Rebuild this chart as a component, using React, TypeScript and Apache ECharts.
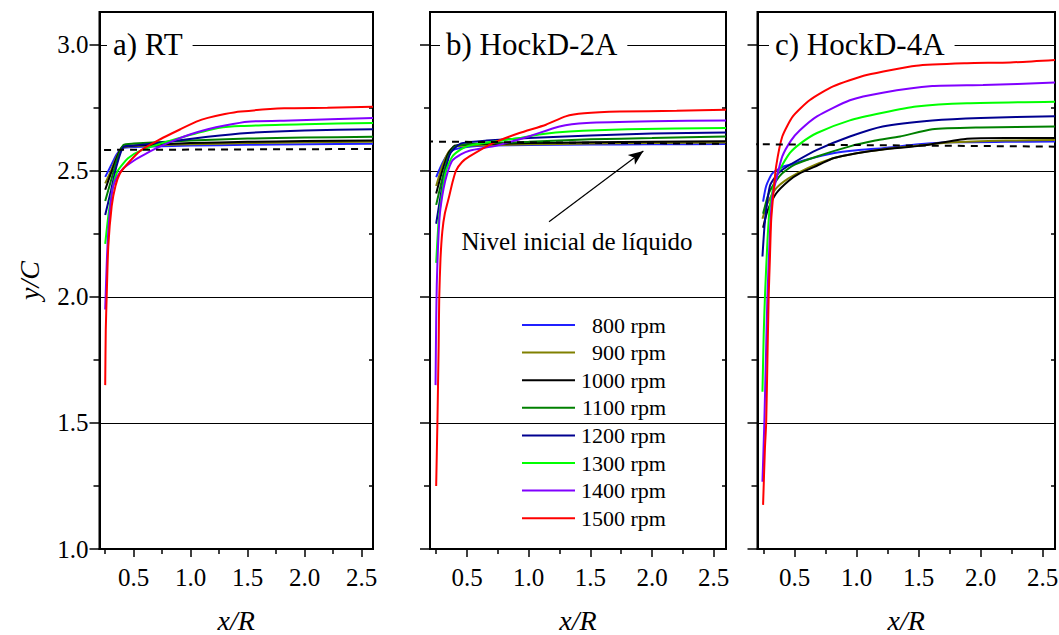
import React, { useEffect, useRef } from "react";
import * as echarts from "echarts";

const FONT = "Liberation Serif";

const rpmNames = ["800 rpm", "900 rpm", "1000 rpm", "1100 rpm", "1200 rpm", "1300 rpm", "1400 rpm", "1500 rpm"];
const rpmColors = ["#2020ff", "#808000", "#000000", "#008000", "#000090", "#00ff00", "#8000ff", "#ff0000"];
const panelTitles = ["a) RT", "b) HockD-2A", "c) HockD-4A"];
const xMajorTicks = [0.5, 1.0, 1.5, 2.0, 2.5];
const xMinorTicks = [0.25, 0.75, 1.25, 1.75, 2.25];
const yMajorTicks = [1.0, 1.5, 2.0, 2.5, 3.0];
const yMinorTicks = [1.25, 1.75, 2.25, 2.75];
const annotationText = "Nivel inicial de líquido";

// Panel a) RT
const a800 = [[0.25, 2.476], [0.3, 2.52], [0.35, 2.565], [0.4, 2.59], [0.5, 2.595], [1.0, 2.6], [1.5, 2.603], [2.0, 2.605], [2.6, 2.607]];
const a900 = [[0.25, 2.45], [0.3, 2.5], [0.35, 2.555], [0.4, 2.592], [0.5, 2.598], [1.0, 2.605], [1.5, 2.61], [2.0, 2.613], [2.6, 2.615]];
const a1000 = [[0.25, 2.425], [0.3, 2.49], [0.35, 2.55], [0.4, 2.595], [0.5, 2.6], [1.0, 2.61], [1.5, 2.615], [2.0, 2.618], [2.6, 2.62]];
const a1100 = [[0.25, 2.38], [0.3, 2.46], [0.35, 2.54], [0.41, 2.603], [0.5, 2.608], [1.0, 2.62], [1.5, 2.628], [2.0, 2.632], [2.6, 2.635]];
const a1200 = [[0.25, 2.325], [0.3, 2.42], [0.35, 2.52], [0.41, 2.595], [0.5, 2.6], [0.8, 2.615], [1.15, 2.635], [1.5, 2.65], [2.0, 2.66], [2.6, 2.665]];
const a1300 = [[0.25, 2.21], [0.28, 2.33], [0.32, 2.44], [0.36, 2.5], [0.45, 2.55], [0.56, 2.58], [0.75, 2.61], [0.94, 2.635], [1.1, 2.655], [1.24, 2.67], [1.44, 2.678], [2.0, 2.685], [2.6, 2.69]];
const a1400 = [[0.25, 1.95], [0.265, 2.15], [0.28, 2.28], [0.3, 2.38], [0.32, 2.44], [0.36, 2.48], [0.41, 2.51], [0.5, 2.54], [0.56, 2.556], [0.7, 2.59], [0.85, 2.62], [1.0, 2.645], [1.15, 2.665], [1.3, 2.68], [1.5, 2.695], [1.88, 2.7], [2.6, 2.71]];
const a1500 = [[0.25, 1.65], [0.255, 1.87], [0.263, 2.0], [0.277, 2.2], [0.307, 2.36], [0.34, 2.44], [0.38, 2.49], [0.45, 2.53], [0.56, 2.58], [0.71, 2.62], [0.91, 2.665], [1.05, 2.695], [1.15, 2.71], [1.3, 2.725], [1.44, 2.735], [1.82, 2.748], [2.2, 2.75], [2.6, 2.754]];

// Panel b) HockD-2A
const b800 = [[0.25, 2.475], [0.3, 2.53], [0.35, 2.57], [0.4, 2.585], [0.5, 2.595], [0.7, 2.6], [1.0, 2.602], [1.5, 2.604], [2.0, 2.605], [2.6, 2.606]];
const b900 = [[0.25, 2.44], [0.3, 2.52], [0.35, 2.575], [0.4, 2.595], [0.5, 2.6], [1.0, 2.605], [1.5, 2.608], [2.0, 2.61], [2.6, 2.612]];
const b1000 = [[0.25, 2.41], [0.3, 2.5], [0.35, 2.57], [0.4, 2.6], [0.5, 2.605], [1.0, 2.61], [1.5, 2.613], [2.0, 2.615], [2.6, 2.617]];
const b1100 = [[0.25, 2.365], [0.3, 2.47], [0.35, 2.56], [0.4, 2.595], [0.5, 2.605], [1.0, 2.615], [1.5, 2.625], [2.0, 2.63], [2.6, 2.636]];
const b1200 = [[0.25, 2.29], [0.3, 2.44], [0.356, 2.56], [0.4, 2.59], [0.46, 2.61], [0.66, 2.62], [1.0, 2.63], [1.5, 2.64], [2.0, 2.648], [2.6, 2.652]];
const b1300 = [[0.25, 2.135], [0.27, 2.3], [0.3, 2.42], [0.33, 2.5], [0.38, 2.556], [0.45, 2.585], [0.52, 2.6], [0.7, 2.615], [0.925, 2.63], [1.1, 2.645], [1.33, 2.656], [1.8, 2.665], [2.6, 2.67]];
const b1400 = [[0.245, 1.65], [0.25, 1.9], [0.255, 2.05], [0.265, 2.2], [0.28, 2.33], [0.31, 2.43], [0.34, 2.49], [0.38, 2.54], [0.45, 2.565], [0.52, 2.58], [0.74, 2.6], [1.0, 2.636], [1.25, 2.676], [1.47, 2.69], [2.0, 2.697], [2.6, 2.7]];
const b1500 = [[0.25, 1.25], [0.26, 1.5], [0.27, 1.8], [0.275, 2.0], [0.285, 2.15], [0.3, 2.26], [0.32, 2.33], [0.356, 2.4], [0.38, 2.45], [0.41, 2.5], [0.46, 2.535], [0.52, 2.557], [0.71, 2.61], [0.925, 2.65], [1.14, 2.683], [1.3, 2.716], [1.45, 2.728], [1.74, 2.735], [2.2, 2.738], [2.6, 2.742]];

// Panel c) HockD-4A
const c800 = [[0.245, 2.378], [0.27, 2.44], [0.32, 2.49], [0.4, 2.515], [0.46, 2.524], [0.6, 2.545], [0.81, 2.57], [1.0, 2.582], [1.21, 2.59], [1.5, 2.605], [1.75, 2.613], [2.2, 2.615], [2.6, 2.616]];
const c900 = [[0.24, 2.31], [0.28, 2.37], [0.35, 2.43], [0.45, 2.47], [0.6, 2.51], [0.81, 2.55], [1.0, 2.57], [1.21, 2.585], [1.5, 2.6], [1.75, 2.612], [2.2, 2.62], [2.6, 2.622]];
const c1000 = [[0.245, 2.274], [0.28, 2.34], [0.35, 2.41], [0.45, 2.46], [0.54, 2.49], [0.7, 2.525], [0.81, 2.55], [1.0, 2.57], [1.21, 2.585], [1.53, 2.6], [1.89, 2.627], [2.2, 2.63], [2.6, 2.63]];
const c1100 = [[0.245, 2.33], [0.29, 2.41], [0.35, 2.46], [0.4, 2.49], [0.5, 2.525], [0.68, 2.557], [0.945, 2.597], [1.15, 2.62], [1.35, 2.636], [1.61, 2.665], [2.0, 2.672], [2.6, 2.676]];
const c1200 = [[0.24, 2.16], [0.26, 2.3], [0.3, 2.44], [0.35, 2.48], [0.4, 2.504], [0.5, 2.535], [0.68, 2.583], [0.945, 2.636], [1.21, 2.676], [1.61, 2.7], [2.0, 2.71], [2.6, 2.716]];
const c1300 = [[0.24, 1.624], [0.25, 1.85], [0.26, 2.0], [0.28, 2.22], [0.3, 2.36], [0.35, 2.477], [0.46, 2.57], [0.55, 2.61], [0.68, 2.65], [0.945, 2.7], [1.21, 2.73], [1.48, 2.755], [1.89, 2.768], [2.6, 2.774]];
const c1400 = [[0.24, 1.267], [0.255, 1.5], [0.27, 1.8], [0.28, 2.0], [0.3, 2.25], [0.32, 2.4], [0.35, 2.464], [0.4, 2.557], [0.47, 2.62], [0.54, 2.66], [0.68, 2.716], [0.945, 2.78], [1.21, 2.81], [1.61, 2.836], [2.02, 2.84], [2.6, 2.85]];
const c1500 = [[0.245, 1.175], [0.26, 1.4], [0.27, 1.5], [0.28, 1.75], [0.29, 2.0], [0.3, 2.15], [0.31, 2.3], [0.33, 2.42], [0.35, 2.517], [0.4, 2.636], [0.485, 2.716], [0.62, 2.78], [0.81, 2.835], [1.08, 2.88], [1.48, 2.917], [1.89, 2.927], [2.24, 2.93], [2.6, 2.94]];

// Initial liquid level (dashed), extending past the frames as in the figure
const levelA = [[0.24, 2.583], [2.79, 2.587]];
const levelB = [[-0.043, 2.617], [2.6, 2.607]];
const levelC = [[0.033, 2.606], [2.6, 2.596]];
const arrowFrom = [1.165, 2.298];
const arrowTo = [1.93, 2.579];

const panelData = [
  [a800, a900, a1000, a1100, a1200, a1300, a1400, a1500],
  [b800, b900, b1000, b1100, b1200, b1300, b1400, b1500],
  [c800, c900, c1000, c1100, c1200, c1300, c1400, c1500],
];
const levels = [levelA, levelB, levelC];

export default function App() {
  const ref = useRef<HTMLDivElement>(null);
  useEffect(() => {
    if (!ref.current) return;
    const chart = echarts.init(ref.current, null, { renderer: "svg" });
    const grids = [
      { left: 99.5, top: 12, width: 273.5, height: 537 },
      { left: 430, top: 12, width: 296, height: 537 },
      { left: 757.5, top: 12, width: 297.5, height: 537 },
    ];
    const titleLefts = [107, 440, 769];
    const black = "#000";
    const tickFont = `25px "${FONT}"`;
    const xAxes: any[] = [];
    const yAxes: any[] = [];
    const series: any[] = [];
    grids.forEach((g, i) => {
      xAxes.push({
        gridIndex: i, type: "value", position: "bottom", min: 0.2, max: 2.6,
        axisLine: { show: true, lineStyle: { color: black, width: 2 } },
        axisTick: { show: true, customValues: xMajorTicks, length: 8, inside: false, lineStyle: { color: black, width: 1.5 } },
        axisLabel: { show: false },
        splitLine: { show: false },
        name: "x/R", nameLocation: "middle", nameGap: 57,
        nameTextStyle: { fontSize: 28, fontStyle: "italic", fontFamily: FONT, color: black },
      });
      xAxes.push({
        gridIndex: i, type: "value", position: "bottom", min: 0.2, max: 2.6,
        axisLine: { show: false },
        axisTick: { show: true, customValues: xMinorTicks, length: 5, inside: false, lineStyle: { color: black, width: 1.5 } },
        axisLabel: { show: false }, splitLine: { show: false },
      });
      yAxes.push({
        gridIndex: i, type: "value", position: "left", min: 1.0, max: 3.13, interval: 0.5,
        axisLine: { show: true, lineStyle: { color: black, width: 2 } },
        axisTick: { show: true, customValues: yMajorTicks, length: 10, inside: false, lineStyle: { color: black, width: 1.5 } },
        axisLabel: { show: false },
        splitLine: { show: true, lineStyle: { color: black, width: 1.2 } },
        name: i === 0 ? "y/C" : "", nameLocation: "middle", nameRotate: 90, nameGap: 56,
        nameTextStyle: { fontSize: 28, fontStyle: "italic", fontFamily: FONT, color: black },
      });
      yAxes.push({
        gridIndex: i, type: "value", position: "left", min: 1.0, max: 3.13,
        axisLine: { show: false },
        axisTick: { show: true, customValues: yMinorTicks, length: 6, inside: false, lineStyle: { color: black, width: 1.5 } },
        axisLabel: { show: false }, splitLine: { show: false },
      });
      yAxes.push({
        gridIndex: i, type: "value", position: "right", min: 1.0, max: 3.13,
        axisLine: { show: false },
        axisTick: { show: true, customValues: yMinorTicks, length: 4, inside: true, lineStyle: { color: black, width: 1.5 } },
        axisLabel: { show: false }, splitLine: { show: false },
      });
      panelData[i].forEach((d, j) => {
        series.push({
          type: "line", name: rpmNames[j], xAxisIndex: 2 * i, yAxisIndex: 3 * i,
          data: d, showSymbol: false, symbol: "none", smooth: 0.2,
          lineStyle: { color: rpmColors[j], width: 2 }, itemStyle: { color: rpmColors[j] },
          z: 3 + j,
        });
      });
      const lvl: any = {
        type: "line", name: "nivel" + i, xAxisIndex: 2 * i, yAxisIndex: 3 * i,
        data: levels[i], showSymbol: false, symbol: "none", clip: false,
        lineStyle: { color: black, width: 2, type: [7, 6] }, z: 12,
      };
      if (i === 1) {
        lvl.markLine = {
          silent: true, symbol: ["none", "arrow"], symbolSize: [9, 15],
          label: { show: false },
          lineStyle: { color: black, width: 1.2, type: "solid" },
          data: [[{ coord: arrowFrom }, { coord: arrowTo }]],
        };
      }
      series.push(lvl);
    });

    const annotation = {
      type: "text", id: "annot", x: 577, y: 241, z: 20,
      style: { text: annotationText, font: `25px "${FONT}"`, fill: black, align: "center", verticalAlign: "middle" },
    };

    const option: any = {
      animation: false,
      backgroundColor: "#fff",
      textStyle: { fontFamily: FONT, color: black },
      grid: grids.map((g) => ({ ...g, show: true, borderColor: black, borderWidth: 2, backgroundColor: "transparent", containLabel: false, outerBoundsMode: "none" })),
      title: panelTitles.map((t, i) => ({
        text: t, left: titleLefts[i], top: 27,
        backgroundColor: "#fff", padding: [1, 10, 1, 6],
        textStyle: { fontSize: 31, fontWeight: "normal", fontFamily: FONT, color: black, lineHeight: 32 },
      })),
      legend: {
        show: true, orient: "vertical", left: 517, top: 309,
        itemWidth: 53, itemHeight: 2, itemGap: 5.6, icon: "rect",
        selectedMode: false, data: rpmNames,
        formatter: (n: string) => `{r|${n}}`,
        textStyle: { color: black, fontFamily: FONT, fontSize: 22, rich: { r: { width: 86, align: "right", fontSize: 22, lineHeight: 22, fontFamily: FONT, color: black } } },
      },
      graphic: [annotation],
      xAxis: xAxes,
      yAxis: yAxes,
      series,
    };
    chart.setOption(option);

    // Tick labels placed through the axes' own scales
    const gfx: any[] = [annotation];
    const yAxisLeft = chart.convertToPixel({ xAxisIndex: 0 }, 0.2) as number;
    yMajorTicks.forEach((v, k) => {
      const py = chart.convertToPixel({ yAxisIndex: 0 }, v) as number;
      gfx.push({
        type: "text", id: "yl" + k, x: yAxisLeft - 11, y: py, z: 20,
        style: { text: v.toFixed(1), font: tickFont, fill: black, align: "right", verticalAlign: "middle" },
      });
    });
    grids.forEach((g, i) => {
      const base = chart.convertToPixel({ yAxisIndex: 3 * i }, 1.0) as number;
      xMajorTicks.forEach((v, k) => {
        const px = chart.convertToPixel({ xAxisIndex: 2 * i }, v) as number;
        gfx.push({
          type: "text", id: `xl${i}_${k}`, x: px, y: base + 28, z: 20,
          style: { text: v.toFixed(1), font: tickFont, fill: black, align: "center", verticalAlign: "middle" },
        });
      });
    });
    chart.setOption({ graphic: gfx });
    return () => chart.dispose();
  }, []);
  return <div ref={ref} style={{ position: "absolute", left: 0, top: 0, width: 1059, height: 635, background: "#fff" }} />;
}
